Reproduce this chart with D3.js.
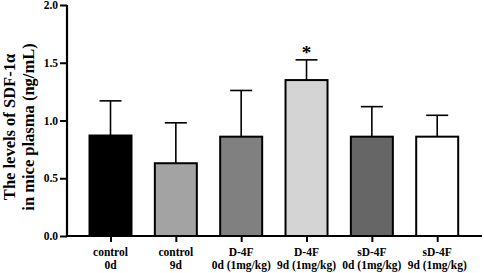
<!DOCTYPE html>
<html><head><meta charset="utf-8">
<script src="https://cdn.jsdelivr.net/npm/d3@7"></script>
<style>
body{margin:0;background:#fff;}
text{font-family:"Liberation Serif","Times New Roman",serif;font-weight:bold;fill:#000;}
</style></head>
<body><svg id="c" width="484" height="273"></svg>
<script>
const categories = ["control|0d","control|9d","D-4F|0d (1mg/kg)","D-4F|9d (1mg/kg)","sD-4F|0d (1mg/kg)","sD-4F|9d (1mg/kg)"];
const means = [0.87, 0.63, 0.86, 1.35, 0.86, 0.86];
const errors = [0.30, 0.35, 0.40, 0.175, 0.26, 0.185];
const fills = ["#000000","#a3a3a3","#808080","#d4d4d4","#666666","#ffffff"];
const yTicks = [0, 0.5, 1.0, 1.5, 2.0];
const stars = ["", "", "", "*", "", ""];

const svg = d3.select("#c");
const y = d3.scaleLinear().domain([0, 2]).range([236, 5]);
const x = d3.scalePoint().domain(categories).range([110.5, 437.2]);
const bw = 42;

svg.selectAll("rect.bar").data(categories).join("rect")
  .attr("x", d => x(d) - bw/2)
  .attr("y", (d,i) => y(means[i]))
  .attr("width", bw)
  .attr("height", (d,i) => y(0) - y(means[i]))
  .attr("fill", (d,i) => fills[i])
  .attr("stroke", "#000").attr("stroke-width", 2);

categories.forEach((c,i) => {
  const cx = x(c);
  svg.append("line").attr("x1", cx).attr("x2", cx)
    .attr("y1", y(means[i])).attr("y2", y(means[i] + errors[i]))
    .attr("stroke", "#000").attr("stroke-width", 1.6);
  svg.append("line").attr("x1", cx - 11).attr("x2", cx + 11)
    .attr("y1", y(means[i] + errors[i])).attr("y2", y(means[i] + errors[i]))
    .attr("stroke", "#000").attr("stroke-width", 1.6);
  if (stars[i]) {
    svg.append("text").attr("x", cx).attr("y", y(means[i] + errors[i]) - 1)
      .attr("text-anchor", "middle").attr("font-size", 19).text(stars[i]);
  }
});

const ya = svg.append("g").attr("transform", "translate(67,0)")
  .call(d3.axisLeft(y).tickValues(yTicks).tickFormat(d3.format(".1f")).tickSize(7).tickPadding(2));
ya.select(".domain").attr("stroke-width", 2.2).attr("d", `M0,${y(2)}V${y(0)+1}`);
ya.selectAll(".tick line").attr("stroke-width", 2);
ya.selectAll(".tick text").attr("font-size", 11.5).attr("fill", "#000");

const xa = svg.append("g").attr("transform", "translate(0,236)")
  .call(d3.axisBottom(x).tickSize(6).tickFormat(""));
xa.select(".domain").attr("stroke-width", 2.2).attr("d", "M66,0H482");
xa.selectAll(".tick line").attr("stroke-width", 2);
categories.forEach(c => {
  const parts = c.split("|");
  const t = svg.append("text").attr("x", x(c)).attr("text-anchor", "middle").attr("font-size", 11.5);
  t.append("tspan").attr("x", x(c)).attr("y", 256).text(parts[0]);
  t.append("tspan").attr("x", x(c)).attr("y", 268.5).text(parts[1]);
});

const yl = svg.append("text").attr("transform", "translate(0,127) rotate(-90)")
  .attr("text-anchor", "middle").attr("font-size", 16.5);
yl.append("tspan").attr("x", 0).attr("y", 15).text("The levels of SDF-1α");
yl.append("tspan").attr("x", 0).attr("y", 34).text("in mice plasma (ng/mL)");
</script></body></html>
